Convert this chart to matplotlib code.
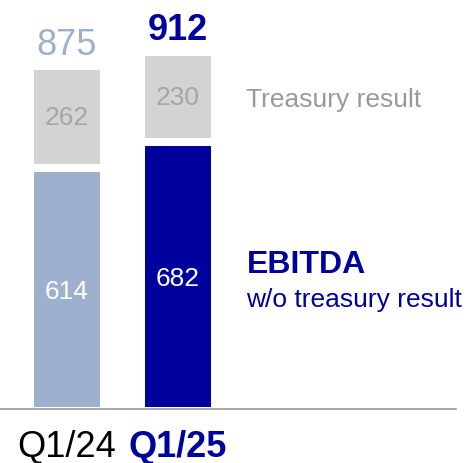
import matplotlib
matplotlib.use("Agg")
import matplotlib.pyplot as plt

# Data
quarters = ["Q1/24", "Q1/25"]
ebitda_wo_treasury = [614, 682]
treasury_result = [262, 230]
totals = [875, 912]

plt.rcParams['font.family'] = ['Liberation Sans', 'DejaVu Sans']

LIGHT_BLUE = '#9DB0CE'
DARK_BLUE = '#00009C'
GRAY = '#D3D3D3'
GAP = 21  # white gap between segments, in data units

fig = plt.figure(figsize=(4.69, 4.64), dpi=100)
ax = fig.add_axes([0, 56 / 464, 1, 408 / 464])
ax.set_xlim(-0.604, 3.622)
ax.set_ylim(0, 1066)
ax.axis('off')

x = list(range(len(quarters)))
lower_colors = [LIGHT_BLUE, DARK_BLUE]
ax.bar(x, ebitda_wo_treasury, width=0.595, color=lower_colors)
upper_bottoms = [v + GAP for v in ebitda_wo_treasury]
upper_heights = [t - b + 6 for t, b in zip(totals, upper_bottoms)]
ax.bar(x, upper_heights, bottom=upper_bottoms, width=0.595, color=GRAY)

# segment labels
for i in x:
    ax.text(i, ebitda_wo_treasury[i] * 0.495, str(ebitda_wo_treasury[i]),
            ha='center', va='center', color='white', fontsize=19)
    ax.text(i, upper_bottoms[i] + upper_heights[i] / 2, str(treasury_result[i]),
            ha='center', va='center', color='#A6A6A6', fontsize=19)

# totals
ax.text(0, totals[0] + 73, str(totals[0]), ha='center', va='center',
        color=LIGHT_BLUE, fontsize=26)
ax.text(1, totals[1] + 75, str(totals[1]), ha='center', va='center',
        color=DARK_BLUE, fontsize=26, fontweight='bold')

# baseline
ax.plot([-0.604, 3.505], [-6, -6], color='#999999', lw=1.2, clip_on=False)

# category labels
ax.text(0, -103, quarters[0], ha='center', va='center', color='black',
        fontsize=26, clip_on=False)
ax.text(1, -103, quarters[1], ha='center', va='center', color=DARK_BLUE,
        fontsize=26, fontweight='bold', clip_on=False)

# legend-like annotations
lx = 1.617
ax.text(lx, 806, "Treasury result", ha='left', va='center', color='#999999', fontsize=19)
ax.text(lx, 374, "EBITDA", ha='left', va='center', color=DARK_BLUE,
        fontsize=23, fontweight='bold')
ax.text(lx, 283, "w/o treasury result", ha='left', va='center', color=DARK_BLUE, fontsize=19)

fig.savefig('out.png', dpi=100)
